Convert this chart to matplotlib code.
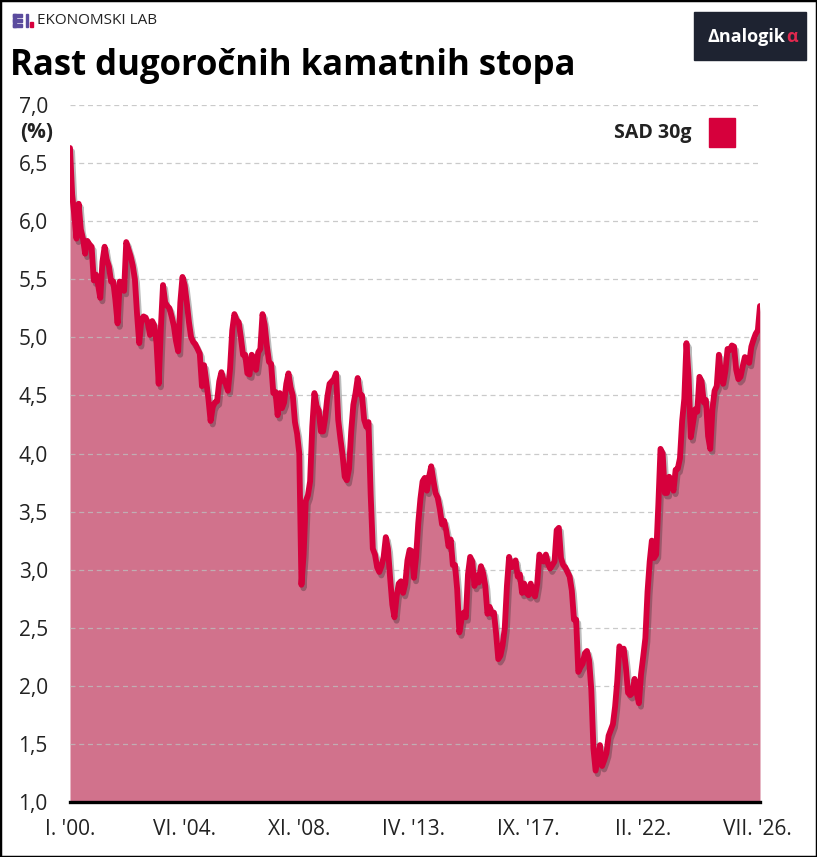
import matplotlib
matplotlib.use('Agg')
import matplotlib.pyplot as plt
import matplotlib.patheffects as pe
from matplotlib.patches import Rectangle
import numpy as np

plt.rcParams['font.family'] = ['Open Sans', 'DejaVu Sans']

W, H = 817, 857

# SAD 30g, mjesečno (%)
y2000 = [6.63, 6.23, 6.05, 5.85, 6.15, 5.93, 5.85, 5.72, 5.83, 5.80, 5.78, 5.49]
y2001 = [5.54, 5.45, 5.34, 5.65, 5.78, 5.67, 5.61, 5.48, 5.48, 5.32, 5.12, 5.48]
y2002 = [5.45, 5.40, 5.82, 5.76, 5.70, 5.62, 5.50, 5.20, 4.95, 5.15, 5.18, 5.17]
y2003 = [5.12, 5.02, 5.14, 5.10, 4.95, 4.60, 5.08, 5.45, 5.30, 5.27, 5.25, 5.18]
y2004 = [5.10, 4.97, 4.88, 5.30, 5.52, 5.45, 5.30, 5.13, 5.00, 4.96, 4.94, 4.90]
y2005 = [4.86, 4.58, 4.76, 4.62, 4.47, 4.28, 4.40, 4.44, 4.45, 4.62, 4.70, 4.63]
y2006 = [4.60, 4.54, 4.73, 5.06, 5.20, 5.15, 5.13, 5.00, 4.85, 4.85, 4.69, 4.68]
y2007 = [4.85, 4.82, 4.72, 4.87, 4.90, 5.20, 5.11, 4.93, 4.79, 4.77, 4.52, 4.53]
y2008 = [4.33, 4.52, 4.39, 4.44, 4.60, 4.69, 4.57, 4.50, 4.27, 4.17, 4.00, 2.87]
y2009 = [3.13, 3.59, 3.64, 3.76, 4.23, 4.52, 4.41, 4.37, 4.19, 4.19, 4.31, 4.49]
y2010 = [4.60, 4.62, 4.64, 4.69, 4.29, 4.13, 3.99, 3.80, 3.77, 3.87, 4.19, 4.42]
y2011 = [4.52, 4.65, 4.51, 4.50, 4.29, 4.23, 4.27, 3.65, 3.18, 3.13, 3.02, 2.98]
y2012 = [3.03, 3.11, 3.28, 3.18, 2.93, 2.70, 2.59, 2.77, 2.88, 2.90, 2.80, 2.88]
y2013 = [3.08, 3.17, 3.16, 2.93, 3.11, 3.40, 3.61, 3.76, 3.79, 3.68, 3.80, 3.89]
y2014 = [3.77, 3.66, 3.62, 3.52, 3.39, 3.42, 3.33, 3.20, 3.26, 3.04, 3.04, 2.83]
y2015 = [2.46, 2.57, 2.63, 2.59, 2.96, 3.11, 3.07, 2.86, 2.95, 2.89, 3.03, 2.97]
y2016 = [2.86, 2.62, 2.68, 2.62, 2.63, 2.45, 2.23, 2.26, 2.35, 2.50, 2.86, 3.11]
y2017 = [3.02, 3.03, 3.08, 2.94, 2.96, 2.80, 2.88, 2.80, 2.78, 2.88, 2.80, 2.77]
y2018 = [2.88, 3.13, 3.09, 3.07, 3.13, 3.05, 3.01, 3.04, 3.07, 3.34, 3.36, 3.10]
y2019 = [3.04, 3.02, 2.98, 2.94, 2.82, 2.57, 2.57, 2.12, 2.16, 2.19, 2.28, 2.30]
y2020 = [2.22, 1.97, 1.46, 1.27, 1.38, 1.49, 1.31, 1.36, 1.42, 1.57, 1.62, 1.67]
y2021 = [1.82, 2.04, 2.34, 2.30, 2.32, 2.16, 1.94, 1.92, 1.94, 2.06, 1.94, 1.85]
y2022 = [2.10, 2.25, 2.41, 2.81, 3.07, 3.25, 3.10, 3.13, 3.56, 4.04, 4.00, 3.66]
y2023 = [3.66, 3.80, 3.77, 3.68, 3.86, 3.87, 3.96, 4.28, 4.47, 4.95, 4.66, 4.14]
y2024 = [4.26, 4.38, 4.36, 4.66, 4.62, 4.44, 4.46, 4.15, 4.04, 4.38, 4.54, 4.58]
y2025 = [4.85, 4.68, 4.60, 4.71, 4.90, 4.89, 4.93, 4.92, 4.72, 4.64, 4.66, 4.75]
y2026 = [4.83, 4.80, 4.78, 4.92, 4.98, 5.03, 5.06, 5.27]

rates = np.array(y2000 + y2001 + y2002 + y2003 + y2004 + y2005 + y2006 + y2007
                 + y2008 + y2009 + y2010 + y2011 + y2012 + y2013 + y2014 + y2015
                 + y2016 + y2017 + y2018 + y2019 + y2020 + y2021 + y2022 + y2023
                 + y2024 + y2025 + y2026)
months = np.arange(len(rates))

x_ticks = [0, 53, 106, 159, 212, 265, 318]
x_labels = ["I. '00.", "VI. '04.", "XI. '08.", "IV. '13.", "IX. '17.", "II. '22.", "VII. '26."]
y_ticks = np.arange(1.0, 7.01, 0.5)
y_labels = [f'{v:.1f}'.replace('.', ',') for v in y_ticks]

LINE = '#D6003C'
FILL = '#D1728C'
TXT = '#222222'


def fx(px):
    return px / W


def fy(py):
    return 1 - py / H


fig = plt.figure(figsize=(W / 100, H / 100), dpi=100)
ax = fig.add_axes([fx(70), fy(802), 690 / W, 697 / H])

ax.fill_between(months, rates, 1.0, color=FILL, lw=0, zorder=1)
ax.plot(months, rates, color=LINE, lw=4.2, solid_joinstyle='round', solid_capstyle='round',
        zorder=3, path_effects=[pe.SimpleLineShadow(offset=(1.5, -2.5), alpha=0.3, shadow_color='#222'),
                                pe.Normal()])

ax.set_xlim(0, 319)
ax.set_ylim(1, 7)
ax.set_axisbelow(False)
ax.grid(axis='y', ls=(0, (4, 3)), color='#BDBDBD', lw=0.9, alpha=0.8)
ax.grid(axis='x', visible=False)
for s in ['left', 'right', 'top']:
    ax.spines[s].set_visible(False)
ax.spines['bottom'].set_linewidth(2.4)
ax.spines['bottom'].set_color('black')
ax.spines['bottom'].set_zorder(5)

ax.set_yticks(y_ticks)
ax.set_yticklabels(y_labels)
ax.set_xticks(x_ticks)
ax.set_xticklabels(x_labels)
ax.tick_params(axis='y', length=0, pad=16, labelsize=15, labelcolor=TXT)
ax.tick_params(axis='x', length=0, pad=12, labelsize=15, labelcolor=TXT)
ax.text(-17 / 690 * 319, 6.76, '(%)', ha='right', va='center', fontsize=15,
        fontweight='bold', color=TXT)

# naslov i logo
fig.text(fx(10), fy(66), 'Rast dugoročnih kamatnih stopa', fontsize=25, fontweight='bold',
         color='black', va='center', ha='left')

purple = '#5B4C9E'
for yy in [14, 19, 24]:
    fig.patches.append(Rectangle((fx(13), fy(yy + 2.5)), 9 / W, 2.5 / H, color=purple,
                                 transform=fig.transFigure))
fig.patches.append(Rectangle((fx(13), fy(26.5)), 2.5 / W, 12.5 / H, color=purple,
                             transform=fig.transFigure))
fig.patches.append(Rectangle((fx(25.5), fy(26.5)), 2.5 / W, 12.5 / H, color=purple,
                             transform=fig.transFigure))
fig.patches.append(Rectangle((fx(30), fy(26.5)), 3 / W, 4 / H, color=LINE,
                             transform=fig.transFigure))
fig.text(fx(37), fy(20.5), 'EKONOMSKI LAB', fontsize=11, color=TXT, va='center', ha='left')

fig.patches.append(Rectangle((fx(694), fy(60)), 112 / W, 48 / H, color='#1E2331',
                             transform=fig.transFigure))
t1 = fig.text(fx(708), fy(37), 'Δnalogik', fontsize=13, fontweight='bold', color='white',
              va='center', ha='left')
fig.canvas.draw()
bb = t1.get_window_extent(fig.canvas.get_renderer())
fig.text(bb.x1 / W, fy(37), 'α', fontsize=13, fontweight='bold', color='#E0284E',
         va='center', ha='left')

# legenda
fig.text(fx(691), fy(133), 'SAD 30g', fontsize=14, fontweight='bold', color=TXT,
         va='center', ha='right')
fig.patches.append(Rectangle((fx(709), fy(147)), 26 / W, 29 / H, color=LINE,
                             transform=fig.transFigure))

fig.patches.append(Rectangle((0, 0), 1, 1, fill=False, edgecolor='black', lw=2.5,
                             transform=fig.transFigure))

fig.savefig('out.png', dpi=100)
